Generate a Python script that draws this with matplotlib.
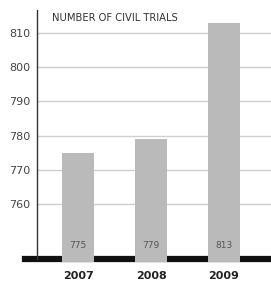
import matplotlib.pyplot as plt

years = ["2007", "2008", "2009"]
trials = [775, 779, 813]
yticks = [760, 770, 780, 790, 800, 810]

fig = plt.figure(figsize=(2.71, 2.81), dpi=100)
ax = fig.add_axes([37 / 271, 22 / 281, 234 / 271, 249 / 281])

x = range(len(years))
ymin = 744
ax.bar(x, [v - (ymin - 0.8) for v in trials], bottom=ymin - 0.8, width=0.44,
       color="#bababa", zorder=3, clip_on=False)
ax.set_xlim(-0.562, 2.644)
ax.set_ylim(ymin, 816.7)

# grid
for t in yticks:
    ax.axhline(t, color="#cfcfcf", lw=1, zorder=1)

# thick black baseline, runs a bit left of the axis
ax.axhline(ymin, xmin=-12 / 234, xmax=1, color="#111111", lw=4.5,
           clip_on=False, zorder=2)

for s in ["top", "right", "bottom"]:
    ax.spines[s].set_visible(False)
ax.spines["left"].set_color("#333333")
ax.spines["left"].set_linewidth(1)

ax.set_yticks(yticks)
ax.set_yticklabels([str(t) for t in yticks], fontsize=8, color="#444444")
ax.tick_params(axis="y", length=0, pad=5)
ax.set_xticks([])

for i, (yr, v) in enumerate(zip(years, trials)):
    ax.text(i, 746.5, str(v), ha="center", va="bottom", fontsize=6.5,
            color="#555555", zorder=4)
    ax.text(i, 738.9, yr, ha="center", va="center", fontsize=8,
            fontweight="bold", color="#222222", clip_on=False)

fig.text(52 / 271, 1 - 18 / 281, "NUMBER OF CIVIL TRIALS", fontsize=7.2,
         fontweight="medium", color="#333333", va="center", ha="left")

fig.savefig("out.png", dpi=100)
